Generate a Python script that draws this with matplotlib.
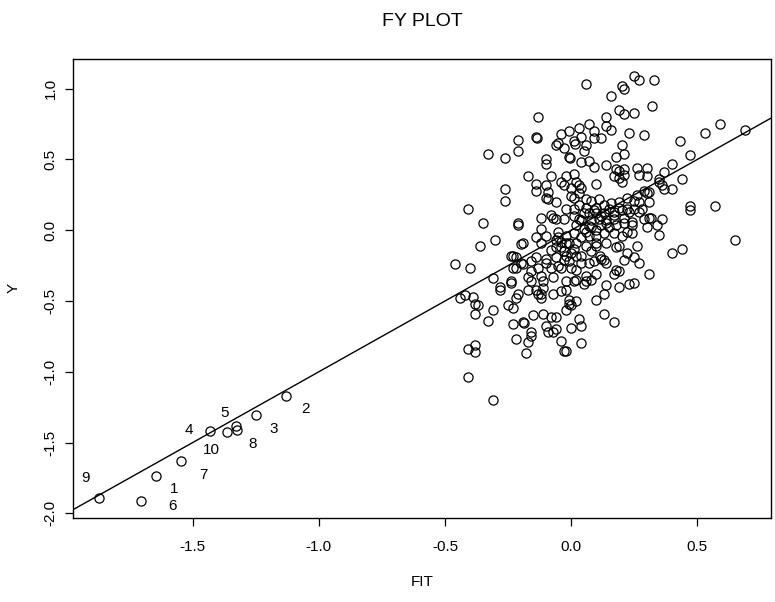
import matplotlib
matplotlib.use('Agg')
import matplotlib.pyplot as plt
import numpy as np

# labelled observations 1..10 (lower-left tail)
fit_lab = [-1.646, -1.132, -1.251, -1.430, -1.327, -1.706, -1.546, -1.325, -1.872, -1.364]
y_lab = [-1.735, -1.174, -1.307, -1.416, -1.385, -1.913, -1.627, -1.408, -1.894, -1.425]
lab_text = ['1', '2', '3', '4', '5', '6', '7', '8', '9', '10']

# main cloud
fit_upper = [0.06, -0.13, -0.33, -0.26, -0.21, -0.21, -0.14, -0.135, -0.10, -0.10,
             -0.04, -0.01, 0.03, 0.07, 0.09, 0.04, 0.09, 0.12, 0.01, 0.015,
             -0.05, -0.06, -0.03, 0.06, 0.05, -0.01, -0.005, 0.04, 0.07, 0.09,
             -0.17, -0.08, -0.02, 0.01, 0.14, 0.25, 0.27, 0.33, 0.20, 0.21,
             0.16, 0.32, 0.19, 0.21, 0.25, 0.14, 0.14, 0.16, 0.23, 0.29,
             0.43, 0.53, 0.59, 0.69, 0.47, 0.40, 0.37, 0.35, 0.44, 0.20,
             0.21, 0.18, 0.18, 0.19, 0.21, 0.26, 0.30, 0.27, 0.17, 0.19, 0.21]
y_upper = [1.03, 0.80, 0.54, 0.51, 0.64, 0.56, 0.66, 0.655, 0.50, 0.47,
           0.68, 0.70, 0.72, 0.75, 0.70, 0.66, 0.65, 0.65, 0.63, 0.61,
           0.62, 0.60, 0.58, 0.60, 0.56, 0.52, 0.51, 0.48, 0.49, 0.45,
           0.38, 0.38, 0.38, 0.40, 0.46, 1.09, 1.06, 1.06, 1.02, 1.00,
           0.95, 0.88, 0.85, 0.82, 0.83, 0.80, 0.74, 0.71, 0.69, 0.67,
           0.63, 0.69, 0.75, 0.71, 0.53, 0.47, 0.41, 0.36, 0.36, 0.60,
           0.54, 0.52, 0.43, 0.42, 0.43, 0.44, 0.44, 0.39, 0.38, 0.37, 0.39]

fit_right = [0.47, 0.47, 0.57, 0.65, 0.44, 0.40, 0.36, 0.34, 0.35, 0.30,
             0.31, 0.315, 0.26, 0.27, 0.31, 0.21, 0.22, 0.18, 0.19, 0.17,
             0.14, 0.23, 0.25, 0.13, 0.12, 0.14, 0.18, 0.19, 0.24, 0.24,
             0.24, 0.28, 0.31, 0.35, 0.36, 0.37, 0.40, 0.29, 0.30, 0.31,
             0.26, 0.25, 0.22, 0.19, 0.22, 0.23, 0.20, 0.30, 0.27, 0.25,
             0.27, 0.29, 0.14, 0.03]
y_right = [0.17, 0.14, 0.17, -0.07, -0.13, -0.16, 0.08, 0.04, -0.03, 0.02,
           0.09, 0.085, -0.11, -0.23, -0.31, -0.21, -0.16, -0.28, -0.29, -0.31,
           -0.39, -0.38, -0.37, -0.21, -0.20, -0.09, -0.12, -0.11, -0.02, 0.06,
           0.04, 0.15, 0.20, 0.34, 0.32, 0.29, 0.29, 0.28, 0.26, 0.27,
           0.25, 0.21, 0.23, 0.16, 0.15, 0.13, 0.34, 0.38, 0.20, 0.15,
           0.13, 0.08, -0.23, 0.32]

fit_left = [-0.26, -0.26, -0.41, -0.35, -0.21, -0.21, -0.30, -0.36, -0.46, -0.40,
            -0.31, -0.28, -0.24, -0.24, -0.20, -0.19, -0.24, -0.23, -0.22, -0.23,
            -0.22, -0.20, -0.19, -0.14, -0.14, -0.10, -0.09, -0.10, -0.09, -0.06,
            -0.04, -0.03, 0.00, 0.02, 0.04, 0.03, 0.01, 0.00, -0.02, 0.01,
            0.10, -0.12, -0.08, -0.07, -0.06, -0.03, -0.12, -0.14, -0.10, -0.12,
            -0.08, -0.10, -0.10, -0.14, -0.16, -0.16, -0.17, -0.16, -0.13, -0.12,
            -0.11, -0.11, -0.14, -0.17, -0.08, -0.06, -0.05, -0.02, -0.01, 0.00,
            0.01, 0.02, 0.04, 0.02, -0.02, 0.01, -0.02, 0.06, 0.10, 0.06,
            0.09, 0.115, 0.10, -0.06, -0.05, -0.04, -0.06, -0.04, -0.02]
y_left = [0.29, 0.21, 0.15, 0.05, 0.05, 0.035, -0.07, -0.11, -0.24, -0.27,
          -0.34, -0.40, -0.36, -0.375, -0.10, -0.09, -0.18, -0.18, -0.19, -0.27,
          -0.27, -0.23, -0.24, 0.33, 0.28, 0.32, 0.27, 0.23, 0.22, 0.20,
          0.34, 0.32, 0.30, 0.34, 0.30, 0.26, 0.23, 0.24, 0.15, 0.15,
          0.33, 0.09, 0.11, 0.09, 0.08, 0.08, 0.01, -0.05, -0.04, -0.09,
          -0.14, -0.20, -0.23, -0.19, -0.22, -0.29, -0.33, -0.36, -0.27, -0.32,
          -0.36, -0.41, -0.42, -0.42, -0.27, -0.19, -0.25, -0.18, -0.22, -0.27,
          -0.13, -0.18, -0.23, -0.28, -0.36, -0.36, -0.42, -0.32, -0.31, -0.36,
          -0.22, -0.185, -0.11, -0.07, -0.05, -0.08, -0.12, -0.12, -0.09]

fit_lower = [-0.44, -0.42, -0.39, -0.38, -0.37, -0.38, -0.31, -0.33, -0.41, -0.38,
             -0.38, -0.41, -0.31, -0.25, -0.23, -0.22, -0.21, -0.23, -0.19, -0.185,
             -0.15, -0.22, -0.18, -0.16, -0.16, -0.17, -0.11, -0.08, -0.06, -0.10,
             -0.09, -0.07, -0.06, -0.04, -0.03, -0.02, 0.00, 0.04, 0.03, 0.04,
             -0.02, -0.01, 0.00, 0.02, -0.01, -0.07, -0.04, -0.12, -0.12, -0.13,
             0.10, 0.13, 0.13, -0.28, 0.17]
y_lower = [-0.48, -0.46, -0.47, -0.52, -0.53, -0.59, -0.56, -0.64, -0.84, -0.81,
           -0.86, -1.04, -1.20, -0.53, -0.55, -0.48, -0.45, -0.66, -0.65, -0.655,
           -0.60, -0.77, -0.87, -0.72, -0.75, -0.79, -0.59, -0.61, -0.615, -0.68,
           -0.72, -0.72, -0.70, -0.78, -0.85, -0.85, -0.69, -0.68, -0.63, -0.80,
           -0.56, -0.52, -0.53, -0.50, -0.49, -0.45, -0.43, -0.48, -0.45, -0.45,
           -0.49, -0.45, -0.59, -0.42, -0.65]

# dense core near the origin
fit_core = [0.06, 0.08, 0.11, 0.06, 0.10, 0.13, 0.16, 0.19, 0.07, 0.10,
            0.13, 0.17, 0.20, 0.04, 0.08, 0.11, 0.14, 0.17, 0.21, 0.02,
            0.05, 0.08, 0.12, 0.15, 0.18, 0.21, 0.22, -0.05, -0.02, 0.01,
            0.04, 0.07, 0.10, 0.13, 0.17, 0.20, -0.01, 0.02, 0.06, 0.10,
            -0.03, 0.00, 0.04, 0.08, 0.25, -0.03, -0.04, -0.07, 0.02, 0.05,
            0.08, 0.07, 0.19, 0.03, 0.05, 0.09, 0.12, 0.15, 0.03, 0.07,
            0.10, 0.14, 0.17, 0.01, 0.06]
y_core = [0.22, 0.21, 0.22, 0.16, 0.16, 0.18, 0.19, 0.20, 0.12, 0.12,
          0.12, 0.13, 0.14, 0.07, 0.07, 0.08, 0.07, 0.08, 0.09, 0.04,
          0.01, 0.02, 0.04, 0.02, 0.04, 0.05, -0.01, -0.01, -0.04, -0.02,
          -0.05, -0.04, -0.04, -0.02, -0.02, -0.04, -0.09, -0.09, -0.11, -0.09,
          -0.15, -0.16, -0.18, -0.15, -0.19, -0.21, -0.27, -0.33, -0.35, -0.38,
          -0.35, -0.23, -0.40, 0.18, 0.12, 0.14, 0.10, 0.15, 0.08, 0.03,
          0.00, 0.05, 0.11, 0.10, -0.01]

# pixel offsets of the number labels from their points
lab_dx = [18, 20, 18, -21, -12, 32, 22, 16, -13, -16]
lab_dy = [-13, -13, -14, 1, 13, -5, -14, -14, 20, -18]

plt.rcParams['font.family'] = ['Liberation Sans', 'DejaVu Sans']
plt.rcParams['axes.unicode_minus'] = False

fit_all = fit_lab + fit_upper + fit_right + fit_left + fit_lower + fit_core
y_all = y_lab + y_upper + y_right + y_left + y_lower + y_core

W, H = 775, 602
fig = plt.figure(figsize=(W / 100, H / 100), dpi=100)
ax = fig.add_axes([73 / W, 1 - 518 / H, (771 - 73) / W, (518 - 59) / H])

ax.plot(fit_all, y_all, linestyle='none', marker='o', ms=6.6,
        mfc='none', mec='black', mew=0.9)
ax.margins(0.04)
ax.set_xlim(ax.get_xlim())
ax.set_ylim(ax.get_ylim())
ax.axline((0, 0), slope=1, color='black', lw=1.0)

for i, t in enumerate(lab_text):
    ax.annotate(t, (fit_lab[i], y_lab[i]), xytext=(lab_dx[i], lab_dy[i]),
                textcoords='offset pixels', ha='center', va='center', fontsize=11)

ax.set_xticks([-1.5, -1.0, -0.5, 0.0, 0.5])
ax.set_yticks([-2.0, -1.5, -1.0, -0.5, 0.0, 0.5, 1.0])
ax.set_xticklabels(['-1.5', '-1.0', '-0.5', '0.0', '0.5'])
ax.set_yticklabels(['-2.0', '-1.5', '-1.0', '-0.5', '0.0', '0.5', '1.0'],
                   rotation=90, va='center')
ax.tick_params(axis='both', direction='out', length=6, width=0.9, labelsize=11)
ax.tick_params(axis='x', pad=10)
ax.tick_params(axis='y', pad=5)
for s in ax.spines.values():
    s.set_linewidth(1.0)

fig.text(422 / W, 1 - 22 / H, 'FY PLOT', ha='center', va='center', fontsize=14)
fig.text(422 / W, 1 - 582 / H, 'FIT', ha='center', va='center', fontsize=11)
fig.text(14 / W, 1 - 288 / H, 'Y', ha='center', va='center', rotation=90, fontsize=11)

fig.savefig('out.png', dpi=100)
